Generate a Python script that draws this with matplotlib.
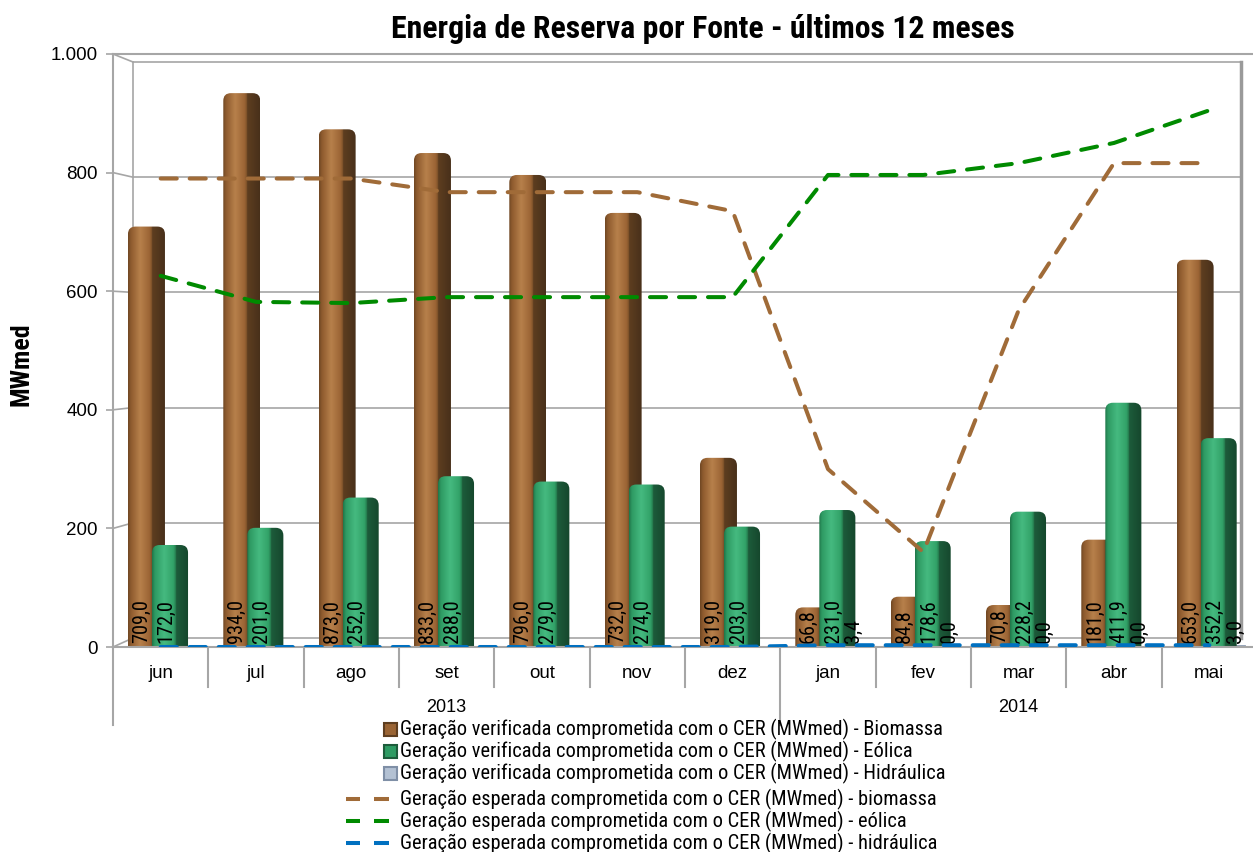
import numpy as np
import matplotlib
matplotlib.use('Agg')
import matplotlib.pyplot as plt
from matplotlib import font_manager
from matplotlib.colors import LinearSegmentedColormap
from matplotlib.patches import FancyBboxPatch, Rectangle
from matplotlib.lines import Line2D
import matplotlib.transforms as mtransforms

W, H = 1253, 852

names = {f.name for f in font_manager.fontManager.ttflist}
NARROW = 'Liberation Sans'
for cand in ['Liberation Sans Narrow', 'Roboto Condensed', 'Open Sans Condensed']:
    if cand in names:
        NARROW = cand
        break
REGULAR = 'Liberation Sans'

# data
months = ['jun', 'jul', 'ago', 'set', 'out', 'nov', 'dez',
          'jan', 'fev', 'mar', 'abr', 'mai']
years = ['2013', '2014']
year_sizes = [7, 5]
ver_biomassa = [709.0, 934.0, 873.0, 833.0, 796.0, 732.0, 319.0, 66.8, 84.8, 70.8, 181.0, 653.0]
ver_eolica = [172.0, 201.0, 252.0, 288.0, 279.0, 274.0, 203.0, 231.0, 178.6, 228.2, 411.9, 352.2]
ver_hidraulica = [None, None, None, None, None, None, None, 3.4, 0.0, 0.0, 0.0, 3.0]
esp_biomassa = [790, 790, 790, 767, 767, 767, 735, 300, 160, 568, 816, 816]
esp_eolica = [626, 582, 580, 590, 590, 590, 590, 796, 796, 816, 850, 905]
esp_hidraulica = [0, 0, 0, 0, 0, 0, 0, 3, 3, 3, 3, 3]
yticks = [0, 200, 400, 600, 800, 1000]
ytick_labels = ['0', '200', '400', '600', '800', '1.000']

title = 'Energia de Reserva por Fonte - últimos 12 meses'
leg_labels = [
    'Geração verificada comprometida com o CER (MWmed) - Biomassa',
    'Geração verificada comprometida com o CER (MWmed) - Eólica',
    'Geração verificada comprometida com o CER (MWmed) - Hidráulica',
    'Geração esperada comprometida com o CER (MWmed) - biomassa',
    'Geração esperada comprometida com o CER (MWmed) - eólica',
    'Geração esperada comprometida com o CER (MWmed) - hidráulica',
]

BROWN_LINE = '#A06B38'
GREEN_LINE = '#008A00'
BLUE_LINE = '#0070C0'
GRID = '#A6A6A6'

brown_cmap = LinearSegmentedColormap.from_list('brown', [
    (0.0, '#6E4623'), (0.08, '#8E5B2E'), (0.33, '#B7804B'), (0.58, '#9C6535'),
    (0.645, '#80532A'), (0.655, '#5E3E20'), (1.0, '#48301A')])
green_cmap = LinearSegmentedColormap.from_list('green', [
    (0.0, '#1F7548'), (0.08, '#2E9A63'), (0.33, '#45BA80'), (0.58, '#32A268'),
    (0.645, '#267D4F'), (0.655, '#1D5C3B'), (1.0, '#15462C')])

fig = plt.figure(figsize=(W / 100, H / 100), dpi=100)
renderer = fig.canvas.get_renderer()


def fit_size(text, family, target_px, weight='normal'):
    # font size that gives the text the width seen in the reference
    t = fig.text(0, 0, text, fontsize=20, family=family, fontweight=weight)
    w = t.get_window_extent(renderer).width
    t.remove()
    return 20 * target_px / w


title_fs = fit_size(title, NARROW, 621, 'bold')
legend_fs = fit_size(leg_labels[0], NARROW, 542)
value_fs = min(16, fit_size('709,0', NARROW, 44))
ylabel_fs = fit_size('MWmed', NARROW, 83, 'bold')

ax_left, ax_right, ax_top, ax_bottom = 113, 1257, 54, 647
ax = fig.add_axes([ax_left / W, 1 - ax_bottom / H, (ax_right - ax_left) / W, (ax_bottom - ax_top) / H])
n = len(months)
x = np.arange(n)
XMIN, XMAX, YMIN, YMAX = -0.5, n - 0.5, 0, 1000
px_x = (ax_right - ax_left) / (XMAX - XMIN)
px_y = (ax_bottom - ax_top) / (YMAX - YMIN)
ASPECT = px_x / px_y

# back wall (3d look)
dx_back = 20 / px_x
def back_y(v):
    return (9 + 0.576 * v) / px_y
bx0, bx1 = XMIN + dx_back, XMIN + (1241 - ax_left) / px_x
for v in yticks:
    ax.plot([bx0, bx1], [back_y(v), back_y(v)], color=GRID, lw=1.2, zorder=0.5)
    ax.plot([XMIN, bx0], [v, back_y(v)], color=GRID, lw=1.2, zorder=0.5, clip_on=False)
ax.plot([bx0, bx0], [back_y(0), back_y(1000)], color=GRID, lw=1.2, zorder=0.5)
ax.plot([bx1, bx1], [back_y(0), back_y(1000)], color='#9A9A9A', lw=2.5, zorder=0.5)


def cyl_bar(xc_off, width, values, cmap, z):
    grad = np.linspace(0, 1, 256).reshape(1, -1)
    for i, v in enumerate(values):
        if v is None or v <= 0:
            continue
        x0 = x[i] + xc_off
        im = ax.imshow(grad, extent=[x0, x0 + width, 0, v], aspect='auto', cmap=cmap,
                       interpolation='bilinear', zorder=z)
        clip = FancyBboxPatch((x0, -40), width, v + 40,
                              boxstyle='round,pad=0,rounding_size=0.08',
                              mutation_aspect=ASPECT, transform=ax.transData)
        im.set_clip_path(clip)


cyl_bar(-0.343, 0.388, ver_biomassa, brown_cmap, 2)
cyl_bar(-0.091, 0.378, ver_eolica, green_cmap, 2.1)
for i, v in enumerate(ver_hidraulica):
    if v is None:
        continue
    ax.add_patch(Rectangle((x[i] + 0.13, 0), 0.24, max(v, 1.5), facecolor='#B3C1D3',
                           edgecolor='#8C9CB2', lw=0.6, zorder=1.9))


def fmt(v):
    return f'{v:.1f}'.replace('.', ',')

for i in range(n):
    ax.text(x[i] - 0.205, 6, fmt(ver_biomassa[i]), rotation=90, ha='center', va='bottom',
            fontsize=value_fs, family=NARROW, color='black', zorder=4)
    ax.text(x[i] + 0.055, 6, fmt(ver_eolica[i]), rotation=90, ha='center', va='bottom',
            fontsize=value_fs, family=NARROW, color='black', zorder=4)
    if ver_hidraulica[i] is not None:
        ax.text(x[i] + 0.27, 6, fmt(ver_hidraulica[i]), rotation=90, ha='center', va='bottom',
                fontsize=value_fs, family=NARROW, color='black', zorder=4)

line_kw = dict(lw=2.9, dashes=(4, 3.2), dash_capstyle='round', zorder=5)
ax.plot(x, esp_biomassa, color=BROWN_LINE, **line_kw)
ax.plot(x, esp_eolica, color=GREEN_LINE, **line_kw)
ax.plot(x, esp_hidraulica, color=BLUE_LINE, **line_kw)

ax.set_xlim(XMIN, XMAX)
ax.set_ylim(YMIN, YMAX)
ax.set_xticks([])
ax.set_yticks(yticks)
ax.set_yticklabels(ytick_labels, family=REGULAR, fontsize=13.5)
ax.tick_params(axis='y', length=5, width=1.2, color=GRID, pad=6)
for side in ['left', 'top', 'bottom']:
    ax.spines[side].set_color(GRID)
    ax.spines[side].set_linewidth(1.5)
ax.spines['right'].set_visible(False)
ax.set_facecolor('none')

# two-level category axis
trans = mtransforms.blended_transform_factory(ax.transData, ax.transAxes)
ax_h = ax_bottom - ax_top
short_y = -(687 - ax_bottom) / ax_h
long_y = -(725 - ax_bottom) / ax_h
bounds = np.cumsum([0] + year_sizes) - 0.5
for b in np.arange(XMIN, XMAX + 0.01):
    y_end = long_y if np.any(np.isclose(bounds, b)) else short_y
    ax.plot([b, b], [0, y_end], transform=trans, color=GRID, lw=1.5, clip_on=False)
for i, m in enumerate(months):
    ax.text(x[i], -(674 - ax_bottom) / ax_h, m, transform=trans,
            ha='center', va='center', fontsize=13.5, family=REGULAR)
for j, yr in enumerate(years):
    ax.text((bounds[j] + bounds[j + 1]) / 2, -(708 - ax_bottom) / ax_h, yr,
            transform=trans, ha='center', va='center', fontsize=13, family=REGULAR)

fig.text(703 / W, 1 - 29 / H, title, ha='center', va='center',
         fontsize=title_fs, fontweight='bold', family=NARROW)
fig.text(22 / W, 1 - 364 / H, 'MWmed', rotation=90, ha='center', va='center',
         fontsize=ylabel_fs, fontweight='bold', family=NARROW)

# legend drawn by hand below the plot
row_y = [729, 751, 773, 799, 821, 843]
sq_colors = [('#9A6434', '#5E3E20'), ('#2E9B63', '#1D5C3B'), ('#B3C1D3', '#7F8FA6')]
line_colors = [BROWN_LINE, GREEN_LINE, BLUE_LINE]
for k, label in enumerate(leg_labels):
    yy = 1 - row_y[k] / H
    if k < 3:
        fc, ec = sq_colors[k]
        fig.add_artist(Rectangle((384 / W, yy - 6.5 / H), 13 / W, 13 / H, facecolor=fc,
                                 edgecolor=ec, lw=1.5, transform=fig.transFigure))
    else:
        c = line_colors[k - 3]
        for s0, s1 in [(346, 360), (374, 389)]:
            fig.add_artist(Line2D([s0 / W, s1 / W], [yy, yy], color=c, lw=2.9,
                                  solid_capstyle='butt', transform=fig.transFigure))
    fig.text(400 / W, yy, label, ha='left', va='center', fontsize=legend_fs, family=NARROW)

fig.savefig('out.png', dpi=100)
